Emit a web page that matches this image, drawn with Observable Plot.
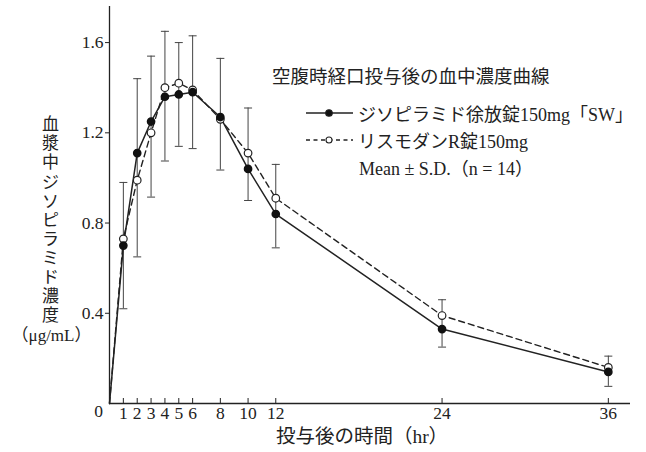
<!DOCTYPE html>
<html><head><meta charset="utf-8">
<script src="https://cdn.jsdelivr.net/npm/d3@7"></script>
<script src="https://cdn.jsdelivr.net/npm/@observablehq/plot@0.6"></script>
<style>
body{margin:0;background:#fff;}
#wrap{position:relative;width:646px;height:452px;font-family:'Liberation Serif','Noto Sans CJK JP',serif;color:#222;}
.lg{position:absolute;white-space:nowrap;}
.row{position:absolute;left:0;display:flex;align-items:center;height:24px;font-size:18px;}
</style>
</head><body>
<div id="wrap"><div id="chart"></div>
<div class="lg" id="legend" style="left:272px;top:0;"></div>
</div>
<script>
const times = [0, 1, 2, 3, 4, 5, 6, 8, 10, 12, 24, 36];
const testMean = [0, 0.70, 1.11, 1.25, 1.36, 1.37, 1.38, 1.27, 1.04, 0.84, 0.33, 0.14];
const refMean  = [0, 0.73, 0.99, 1.20, 1.40, 1.42, 1.39, 1.26, 1.11, 0.91, 0.39, 0.16];
const barTimes  = [1, 2, 3, 4, 5, 6, 8, 10, 12, 24, 36];
const barTop    = [0.98, 1.44, 1.54, 1.65, 1.60, 1.63, 1.53, 1.31, 1.06, 0.46, 0.21];
const barBottom = [0.42, 0.65, 0.915, 1.075, 1.14, 1.13, 1.035, 0.90, 0.69, 0.25, 0.076];
const xTicks = [1, 2, 3, 4, 5, 6, 8, 10, 12, 24, 36];
const yTicks = [0.4, 0.8, 1.2, 1.6];
const seriesNames = ["ジソピラミド徐放錠150mg「SW」", "リスモダンR錠150mg"];
const titleText = "空腹時経口投与後の血中濃度曲線";
const noteText = "Mean ± S.D.（n = 14）";
const xLabel = "投与後の時間（hr）";
const yLabelChars = "血漿中ジソピラミド濃度";
const yUnit = "（μg/mL）";

const data = times.map((t, i) => ({t, test: testMean[i], ref: refMean[i]}));
const bars = barTimes.map((t, i) => ({t, top: barTop[i], bottom: barBottom[i]}));
const capSymbol = {draw(ctx) { ctx.moveTo(-4, 0); ctx.lineTo(4, 0); }};

const font = "'Liberation Serif','Noto Sans CJK JP',serif";
const chart = Plot.plot({
  width: 646, height: 452,
  marginLeft: 109, marginRight: 16, marginTop: 6, marginBottom: 49,
  style: {fontFamily: font, fontSize: "17.5px", color: "#222", background: "white"},
  x: {domain: [0, 37.6]},
  y: {domain: [0, 1.76]},
  marks: [
    Plot.ruleY([0], {stroke: "#222", strokeWidth: 1.3}),
    Plot.ruleX([0], {stroke: "#222", strokeWidth: 1.3}),
    Plot.axisX(xTicks, {tickSize: -5, tickPadding: 8, label: null, stroke: "#222"}),
    Plot.axisY(yTicks, {tickSize: 4, tickPadding: 2, label: null, tickFormat: d => d.toFixed(1)}),
    Plot.text([0], {x: 0, y: 0, text: () => "0", dx: -11, dy: 8}),
    Plot.ruleX(bars, {x: "t", y1: "bottom", y2: "top", stroke: "#444", strokeWidth: 1}),
    Plot.dot(bars, {x: "t", y: "top", symbol: capSymbol, stroke: "#444", strokeWidth: 1, fill: "none"}),
    Plot.dot(bars, {x: "t", y: "bottom", symbol: capSymbol, stroke: "#444", strokeWidth: 1, fill: "none"}),
    Plot.line(data, {x: "t", y: "ref", stroke: "#222", strokeWidth: 1.4, strokeDasharray: "6,4"}),
    Plot.line(data, {x: "t", y: "test", stroke: "#222", strokeWidth: 1.5}),
    Plot.dot(data.filter(d => d.t > 0), {x: "t", y: "ref", r: 3.8, fill: "white", stroke: "#222", strokeWidth: 1.2}),
    Plot.dot(data.filter(d => d.t > 0), {x: "t", y: "test", r: 3.6, fill: "#111", stroke: "#111"}),
    Plot.text([xLabel], {frameAnchor: "bottom", text: d => d, dx: -8, dy: 39, fontSize: 19.5}),
    Plot.text([yLabelChars.split("").join("\n")], {frameAnchor: "left", text: d => d, textAnchor: "middle", dx: -59, dy: 14.5, lineHeight: 1.12, fontSize: 17, lineAnchor: "middle"}),
    Plot.text([yUnit], {frameAnchor: "left", text: d => d, textAnchor: "middle", dx: -58, dy: 131, fontSize: 17})
  ]
});
document.getElementById("chart").append(chart);

const lg = document.getElementById("legend");
const sym = (dash, filled) => `<svg width="47" height="12" style="margin-right:5px;margin-left:34px"><line x1="0" y1="6" x2="47" y2="6" stroke="#222" stroke-width="1.4" ${dash ? 'stroke-dasharray="4,3.5"' : ''}/><circle cx="23" cy="6" r="${filled ? 3.3 : 3}" fill="${filled ? '#111' : 'white'}" stroke="#222" stroke-width="1.1"/></svg>`;
lg.innerHTML = `
<div class="row" style="top:63px;font-size:18.5px;">${titleText}</div>
<div class="row" style="top:101px;">${sym(false, true)}${seriesNames[0]}</div>
<div class="row" style="top:128px;">${sym(true, false)}${seriesNames[1]}</div>
<div class="row" style="top:155px;padding-left:87px;">${noteText}</div>`;
</script>
</body></html>
